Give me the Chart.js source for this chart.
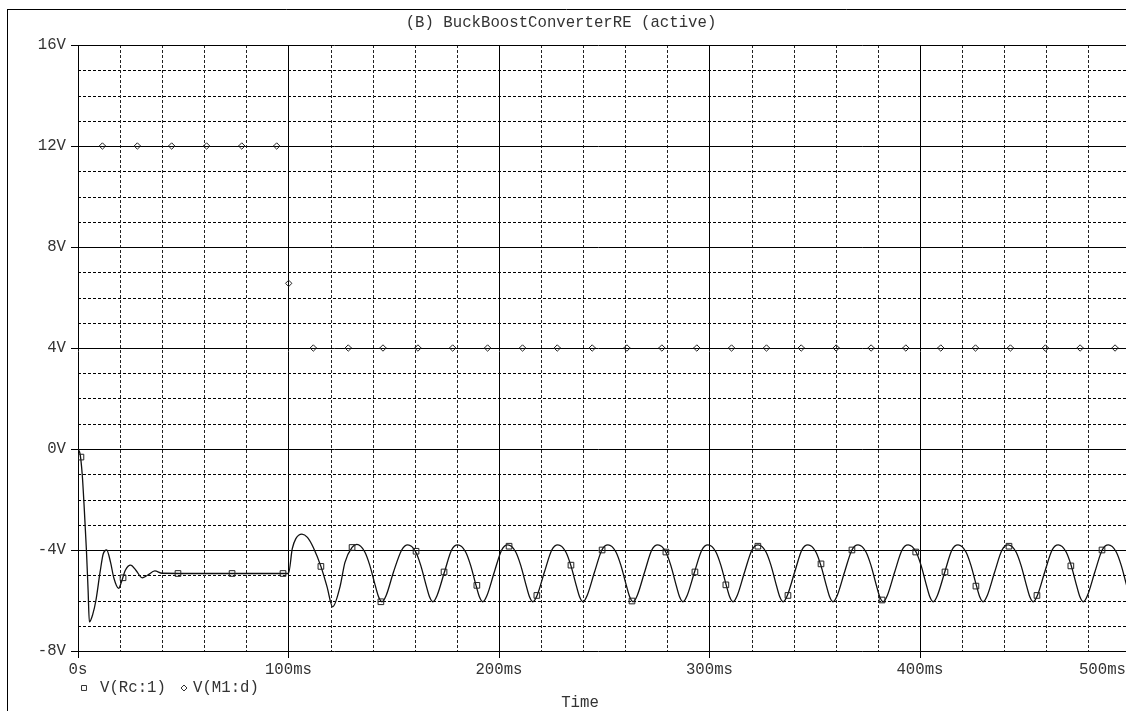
<!DOCTYPE html>
<html><head><meta charset="utf-8">
<script src="https://cdn.jsdelivr.net/npm/chart.js@4.4.1/dist/chart.umd.min.js"></script>
<style>html,body{margin:0;padding:0;background:#fff;overflow:hidden}canvas{display:block}</style>
</head><body>
<canvas id="c" width="1126" height="711"></canvas>
<script>
const chartTitle = "(B) BuckBoostConverterRE (active)";
const xAxisTitle = "Time";
const seriesNames = ["V(Rc:1)", "V(M1:d)"];
const xTickValues = [0, 100, 200, 300, 400, 500];
const xTickLabels = ["0s", "100ms", "200ms", "300ms", "400ms", "500ms"];
const yTickValues = [-8, -4, 0, 4, 8, 12, 16];
const yTickLabels = ["-8V", "-4V", "0V", "4V", "8V", "12V", "16V"];

// V(Rc:1) trace (time in ms, volts)
const rcTime = [0, 1.0, 2.0, 3.0, 4.0, 4.8, 5.4, 7.0, 8.5, 10.5, 12.0, 13.6, 15.5, 17.0, 19.3, 20.5, 22.5, 25.0, 27.5, 30.5, 33.0, 36.5, 40.0, 60.0, 80.0, 100.0,
  101.8, 103.5, 106.4, 109.0, 111.8, 115.4, 118.3, 121.0, 124.5, 126.8, 130.2,
  132.5, 136.2, 138.6, 141.2, 142.8, 144.4, 146.4, 149.9, 153.8,
  156.7, 160.4, 162.8, 165.4, 167.0, 168.6, 170.6, 174.1, 177.5,
  180.4, 184.1, 186.5, 189.1, 190.7, 192.3, 194.3, 197.8, 201.3,
  204.2, 207.9, 210.3, 212.9, 214.5, 216.1, 218.1, 221.6, 225.1,
  228.0, 231.7, 234.1, 236.7, 238.3, 239.9, 241.9, 245.4, 248.9,
  251.8, 255.5, 257.9, 260.5, 262.1, 263.7, 265.7, 269.2, 272.6,
  275.5, 279.2, 281.6, 284.2, 285.8, 287.4, 289.4, 292.9, 296.4,
  299.3, 303.0, 305.4, 308.0, 309.6, 311.2, 313.2, 316.7, 320.2,
  323.1, 326.8, 329.2, 331.8, 333.4, 335.0, 337.0, 340.5, 343.9,
  346.8, 350.5, 352.9, 355.5, 357.1, 358.7, 360.7, 364.2, 367.7,
  370.6, 374.3, 376.7, 379.3, 380.9, 382.5, 384.5, 388.0, 391.5,
  394.4, 398.1, 400.5, 403.1, 404.7, 406.3, 408.3, 411.8, 415.2,
  418.1, 421.8, 424.2, 426.8, 428.4, 430.0, 432.0, 435.5, 439.0,
  441.9, 445.6, 448.0, 450.6, 452.2, 453.8, 455.8, 459.3, 462.8,
  465.7, 469.4, 471.8, 474.4, 476.0, 477.6, 479.6, 483.1, 486.6,
  489.5, 493.2, 495.6, 498.2, 499.8, 501.4];
const rcVolt = [0, -0.2, -1.0, -2.4, -4.0, -5.6, -6.85, -6.55, -6.0, -4.87, -4.15, -4.0, -4.5, -5.1, -5.52, -5.3, -4.8, -4.6, -4.8, -5.1, -5.0, -4.83, -4.92, -4.93, -4.93, -4.93,
  -3.95, -3.55, -3.37, -3.5, -3.9, -4.65, -5.45, -6.25, -5.45, -4.5, -3.9,
  -3.78, -4.07, -4.6, -5.4, -5.85, -6.05, -5.8, -4.87, -4.0,
  -3.8, -4.07, -4.6, -5.4, -5.85, -6.05, -5.8, -4.87, -4.0,
  -3.8, -4.07, -4.6, -5.4, -5.85, -6.05, -5.8, -4.87, -4.0,
  -3.8, -4.07, -4.6, -5.4, -5.85, -6.05, -5.8, -4.87, -4.0,
  -3.8, -4.07, -4.6, -5.4, -5.85, -6.05, -5.8, -4.87, -4.0,
  -3.8, -4.07, -4.6, -5.4, -5.85, -6.05, -5.8, -4.87, -4.0,
  -3.8, -4.07, -4.6, -5.4, -5.85, -6.05, -5.8, -4.87, -4.0,
  -3.8, -4.07, -4.6, -5.4, -5.85, -6.05, -5.8, -4.87, -4.0,
  -3.8, -4.07, -4.6, -5.4, -5.85, -6.05, -5.8, -4.87, -4.0,
  -3.8, -4.07, -4.6, -5.4, -5.85, -6.05, -5.8, -4.87, -4.0,
  -3.8, -4.07, -4.6, -5.4, -5.85, -6.05, -5.8, -4.87, -4.0,
  -3.8, -4.07, -4.6, -5.4, -5.85, -6.05, -5.8, -4.87, -4.0,
  -3.8, -4.07, -4.6, -5.4, -5.85, -6.05, -5.8, -4.87, -4.0,
  -3.8, -4.07, -4.6, -5.4, -5.85, -6.05, -5.8, -4.87, -4.0,
  -3.8, -4.07, -4.6, -5.4, -5.85, -6.05, -5.8, -4.87, -4.0,
  -3.8, -4.07, -4.6, -5.4, -5.85, -6.05];

// V(Rc:1) square markers
const rcMarkTime = [1.4, 21.4, 47.5, 73.2, 97.4, 115.4, 130.2, 143.9, 160.6, 173.9, 189.5, 204.8, 218.0, 234.2, 249.0, 263.2, 279.3, 293.1, 307.8, 323.0, 337.3, 353.0, 367.7, 382.0, 398.0, 411.9, 426.6, 442.3, 455.6, 471.7, 486.5];
const rcMarkVolt = [-0.32, -5.1, -4.93, -4.93, -4.93, -4.65, -3.9, -6.05, -4.05, -4.87, -5.4, -3.85, -5.8, -4.6, -4.0, -6.02, -4.08, -4.87, -5.38, -3.85, -5.8, -4.55, -4.0, -5.98, -4.08, -4.87, -5.43, -3.85, -5.8, -4.63, -4.0];

// V(M1:d) diamond markers
const m1Time = [11.6, 28.2, 44.5, 61.1, 77.8, 94.4, 100.1, 111.8, 128.4, 144.9, 161.5, 178.0, 194.6, 211.2, 227.7, 244.3, 260.8, 277.4, 294.0, 310.5, 327.1, 343.6, 360.2, 376.8, 393.3, 409.9, 426.4, 443.0, 459.6, 476.1, 492.7];
const m1Volt = [12, 12, 12, 12, 12, 12, 6.56, 4, 4, 4, 4, 4, 4, 4, 4, 4, 4, 4, 4, 4, 4, 4, 4, 4, 4, 4, 4, 4, 4, 4, 4];

const toXY = (xs, ys) => xs.map((t, i) => ({x: t, y: ys[i]}));
const FONT = '15.7px "Liberation Mono", "DejaVu Sans Mono", monospace';
const TXT = '#333';

function seg(ctx, x1, y1, x2, y2) { ctx.beginPath(); ctx.moveTo(x1, y1); ctx.lineTo(x2, y2); ctx.stroke(); }

const gridPlugin = {
  id: 'pspiceGrid',
  beforeDatasetsDraw(chart) {
    const {ctx, chartArea: a, scales: {x, y}} = chart;
    ctx.save();
    ctx.strokeStyle = '#000';
    ctx.lineWidth = 1;
    ctx.setLineDash([3, 2]);
    for (let v = Math.ceil(y.min); v <= y.max; v += 1) {
      if (yTickValues.includes(v)) continue;
      const py = Math.round(y.getPixelForValue(v)) + 0.5;
      seg(ctx, a.left, py, a.right, py);
    }
    ctx.strokeStyle = '#222';
    for (let v = 20; v <= x.max; v += 20) {
      if (xTickValues.includes(v)) continue;
      const px = Math.round(x.getPixelForValue(v)) + 0.5;
      seg(ctx, px, a.top, px, a.bottom);
    }
    ctx.setLineDash([]);
    ctx.strokeStyle = '#000';
    for (const v of yTickValues) {
      const py = Math.round(y.getPixelForValue(v)) + 0.5;
      seg(ctx, a.left - 7, py, a.right, py);
    }
    for (const v of xTickValues) {
      if (v > x.max) continue;
      const px = Math.round(x.getPixelForValue(v)) + 0.5;
      seg(ctx, px, a.top, px, a.bottom + 7);
    }
    ctx.restore();
  },
  afterDraw(chart) {
    const {ctx, chartArea: a, scales: {x, y}, width: W, height: H} = chart;
    ctx.save();
    // outer frame
    ctx.strokeStyle = '#000';
    ctx.lineWidth = 1;
    seg(ctx, 7.5, 9, 7.5, H);
    seg(ctx, 7, 9.5, W, 9.5);
    ctx.font = FONT;
    ctx.fillStyle = TXT;
    // y labels
    ctx.textAlign = 'right';
    ctx.textBaseline = 'middle';
    yTickValues.forEach((v, i) => ctx.fillText(yTickLabels[i], a.left - 12, y.getPixelForValue(v)));
    // x labels
    ctx.textAlign = 'center';
    xTickValues.forEach((v, i) => {
      const w = ctx.measureText(xTickLabels[i]).width;
      let px = x.getPixelForValue(v);
      if (px + w / 2 > W) px = W - w / 2;
      ctx.fillText(xTickLabels[i], px, a.bottom + 19);
    });
    // title and axis title
    ctx.fillText(chartTitle, 561, 23);
    ctx.fillText(xAxisTitle, 580, 703);
    // legend
    ctx.textAlign = 'left';
    ctx.fillText(seriesNames[0], 100, 688);
    ctx.fillText(seriesNames[1], 193, 688);
    ctx.strokeStyle = '#333';
    ctx.fillStyle = 'rgba(255,255,255,0)';
    Chart.helpers.drawPoint(ctx, {pointStyle: 'rect', radius: 3.5, borderWidth: 1}, 84, 688);
    Chart.helpers.drawPoint(ctx, {pointStyle: 'rectRot', radius: 3, borderWidth: 1}, 184, 688);
    ctx.restore();
  }
};

new Chart(document.getElementById('c'), {
  type: 'scatter',
  data: {
    datasets: [
      {label: seriesNames[0], data: toXY(rcTime, rcVolt), showLine: true, borderColor: '#111', borderWidth: 1.3,
       pointRadius: 0, cubicInterpolationMode: 'monotone', order: 2},
      {label: seriesNames[0] + ' markers', data: toXY(rcMarkTime, rcMarkVolt), showLine: false, pointStyle: 'rect',
       pointRadius: 4, borderColor: '#222', borderWidth: 1, backgroundColor: 'rgba(255,255,255,0)', order: 1},
      {label: seriesNames[1], data: toXY(m1Time, m1Volt), showLine: false, pointStyle: 'rectRot',
       pointRadius: 3.2, borderColor: '#222', borderWidth: 1, backgroundColor: 'rgba(255,255,255,0)', order: 1}
    ]
  },
  options: {
    responsive: false,
    devicePixelRatio: 1,
    animation: false,
    events: [],
    layout: {autoPadding: false, padding: {left: 78, top: 45, right: 0, bottom: 60}},
    plugins: {legend: {display: false}, title: {display: false}, tooltip: {enabled: false}},
    scales: {
      x: {type: 'linear', min: 0, max: 497.9, display: false},
      y: {type: 'linear', min: -8, max: 16, display: false}
    }
  },
  plugins: [gridPlugin]
});
</script>
</body></html>
